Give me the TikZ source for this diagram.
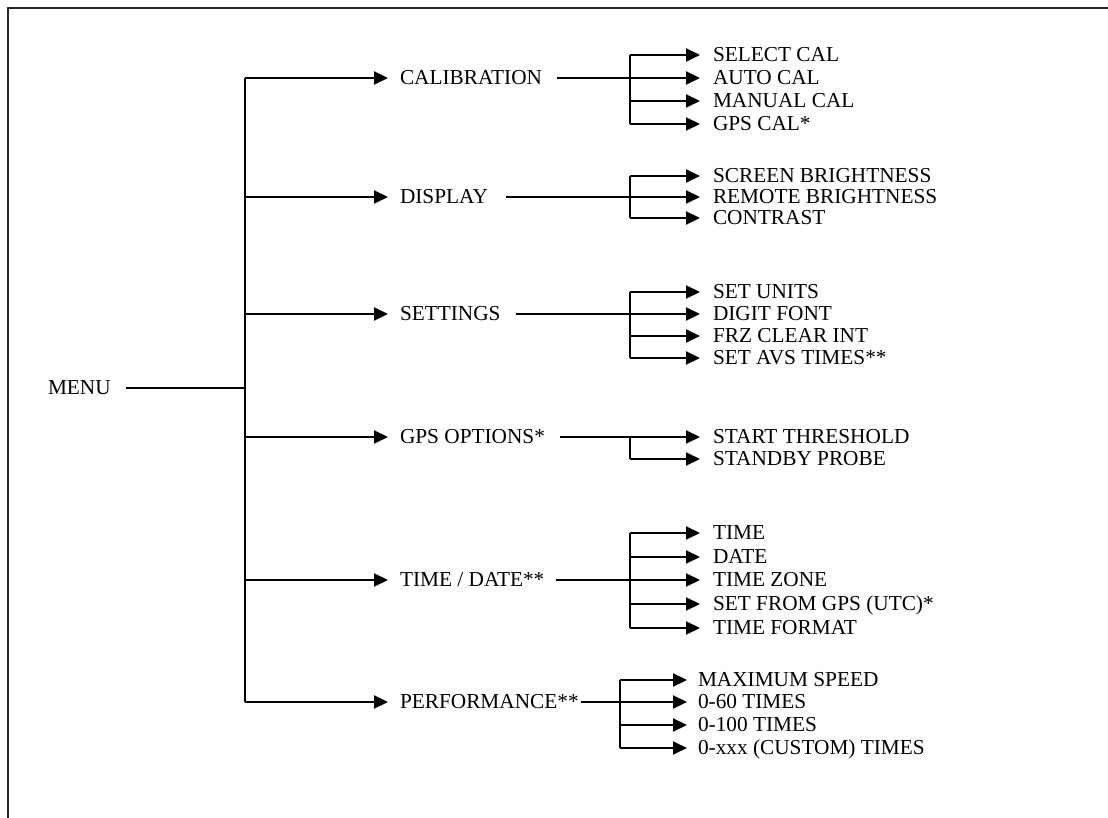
\documentclass[tikz,border=0pt]{standalone}
\usepackage{fontspec}
\setmainfont{Liberation Serif}
\usetikzlibrary{arrows.meta}
\begin{document}
\begin{tikzpicture}[x=1pt,y=-1pt,
  lbl/.style={anchor=west,inner sep=0pt,outer sep=0pt,text height=13.9pt,text depth=0pt,font=\fontsize{21.3}{25}\selectfont},
  wire/.style={line width=2pt},
  arr/.style={wire,-{Triangle[length=14pt,width=13pt]}},
  framel/.style={line width=2.5pt,draw=black!85}]
\useasboundingbox (0,0) rectangle (1108,818);
\draw[framel] (1108,8) -- (8,8) -- (8,818);

% root
\node[lbl] (menu) at (48,388) {MENU};
\coordinate (tm) at (245,388);
\coordinate (ttop) at (245,78);
\coordinate (tbot) at (245,702);
\draw[wire] ([xshift=15pt]menu.east) -- (tm);
\draw[wire] (ttop) -- (tbot);

% main entries
\node[lbl] (cal)  at (400,78)  {CALIBRATION};
\node[lbl] (disp) at (400,197) {DISPLAY};
\node[lbl] (sett) at (400,314) {SETTINGS};
\node[lbl] (gps)  at (400,437) {GPS OPTIONS*};
\node[lbl] (td)   at (400,580) {TIME / DATE**};
\node[lbl] (perf) at (400,702) {PERFORMANCE**};
\foreach \n in {cal,disp,sett,gps,td,perf}
  \draw[arr] (ttop |- \n.west) -- ([xshift=-12pt]\n.west);

% calibration
\node[lbl] (c1) at (713,55)  {SELECT CAL};
\node[lbl] (c2) at (713,78)  {AUTO CAL};
\node[lbl] (c3) at (713,101) {MANUAL CAL};
\node[lbl] (c4) at (713,124) {GPS CAL*};
\coordinate (cv) at (630,78);
\draw[wire] (cv |- c1.west) -- (cv |- c4.west);
\draw[arr] ([xshift=15pt]cal.east) -- ([xshift=-13pt]c2.west);
\foreach \n in {c1,c3,c4}
  \draw[arr] (cv |- \n.west) -- ([xshift=-13pt]\n.west);

% display
\node[lbl] (d1) at (713,176) {SCREEN BRIGHTNESS};
\node[lbl] (d2) at (713,197) {REMOTE BRIGHTNESS};
\node[lbl] (d3) at (713,218) {CONTRAST};
\coordinate (dv) at (630,197);
\draw[wire] (dv |- d1.west) -- (dv |- d3.west);
\draw[arr] ([xshift=18pt]disp.east) -- ([xshift=-13pt]d2.west);
\foreach \n in {d1,d3}
  \draw[arr] (dv |- \n.west) -- ([xshift=-13pt]\n.west);

% settings
\node[lbl] (s1) at (713,292) {SET UNITS};
\node[lbl] (s2) at (713,314) {DIGIT FONT};
\node[lbl] (s3) at (713,336) {FRZ CLEAR INT};
\node[lbl] (s4) at (713,358) {SET AVS TIMES**};
\coordinate (sv) at (630,314);
\draw[wire] (sv |- s1.west) -- (sv |- s4.west);
\draw[arr] ([xshift=15pt]sett.east) -- ([xshift=-13pt]s2.west);
\foreach \n in {s1,s3,s4}
  \draw[arr] (sv |- \n.west) -- ([xshift=-13pt]\n.west);

% gps options
\node[lbl] (g1) at (713,437) {START THRESHOLD};
\node[lbl] (g2) at (713,459) {STANDBY PROBE};
\coordinate (gv) at (630,437);
\draw[wire] (gv |- g1.west) -- (gv |- g2.west);
\draw[arr] ([xshift=15pt]gps.east) -- ([xshift=-13pt]g1.west);
\draw[arr] (gv |- g2.west) -- ([xshift=-13pt]g2.west);

% time / date
\node[lbl] (t1) at (713,533) {TIME};
\node[lbl] (t2) at (713,557) {DATE};
\node[lbl] (t3) at (713,580) {TIME ZONE};
\node[lbl] (t4) at (713,604) {SET FROM GPS (UTC)*};
\node[lbl] (t5) at (713,628) {TIME FORMAT};
\coordinate (tv) at (630,580);
\draw[wire] (tv |- t1.west) -- (tv |- t5.west);
\draw[arr] ([xshift=12pt]td.east) -- ([xshift=-13pt]t3.west);
\foreach \n in {t1,t2,t4,t5}
  \draw[arr] (tv |- \n.west) -- ([xshift=-13pt]\n.west);

% performance
\node[lbl] (p1) at (698,680) {MAXIMUM SPEED};
\node[lbl] (p2) at (698,702) {0-60 TIMES};
\node[lbl] (p3) at (698,725) {0-100 TIMES};
\node[lbl] (p4) at (698,748) {0-xxx (CUSTOM) TIMES};
\coordinate (pv) at (620,702);
\draw[wire] (pv |- p1.west) -- (pv |- p4.west);
\draw[arr] ([xshift=2pt]perf.east) -- ([xshift=-11pt]p2.west);
\foreach \n in {p1,p3,p4}
  \draw[arr] (pv |- \n.west) -- ([xshift=-11pt]\n.west);
\end{tikzpicture}
\end{document}
